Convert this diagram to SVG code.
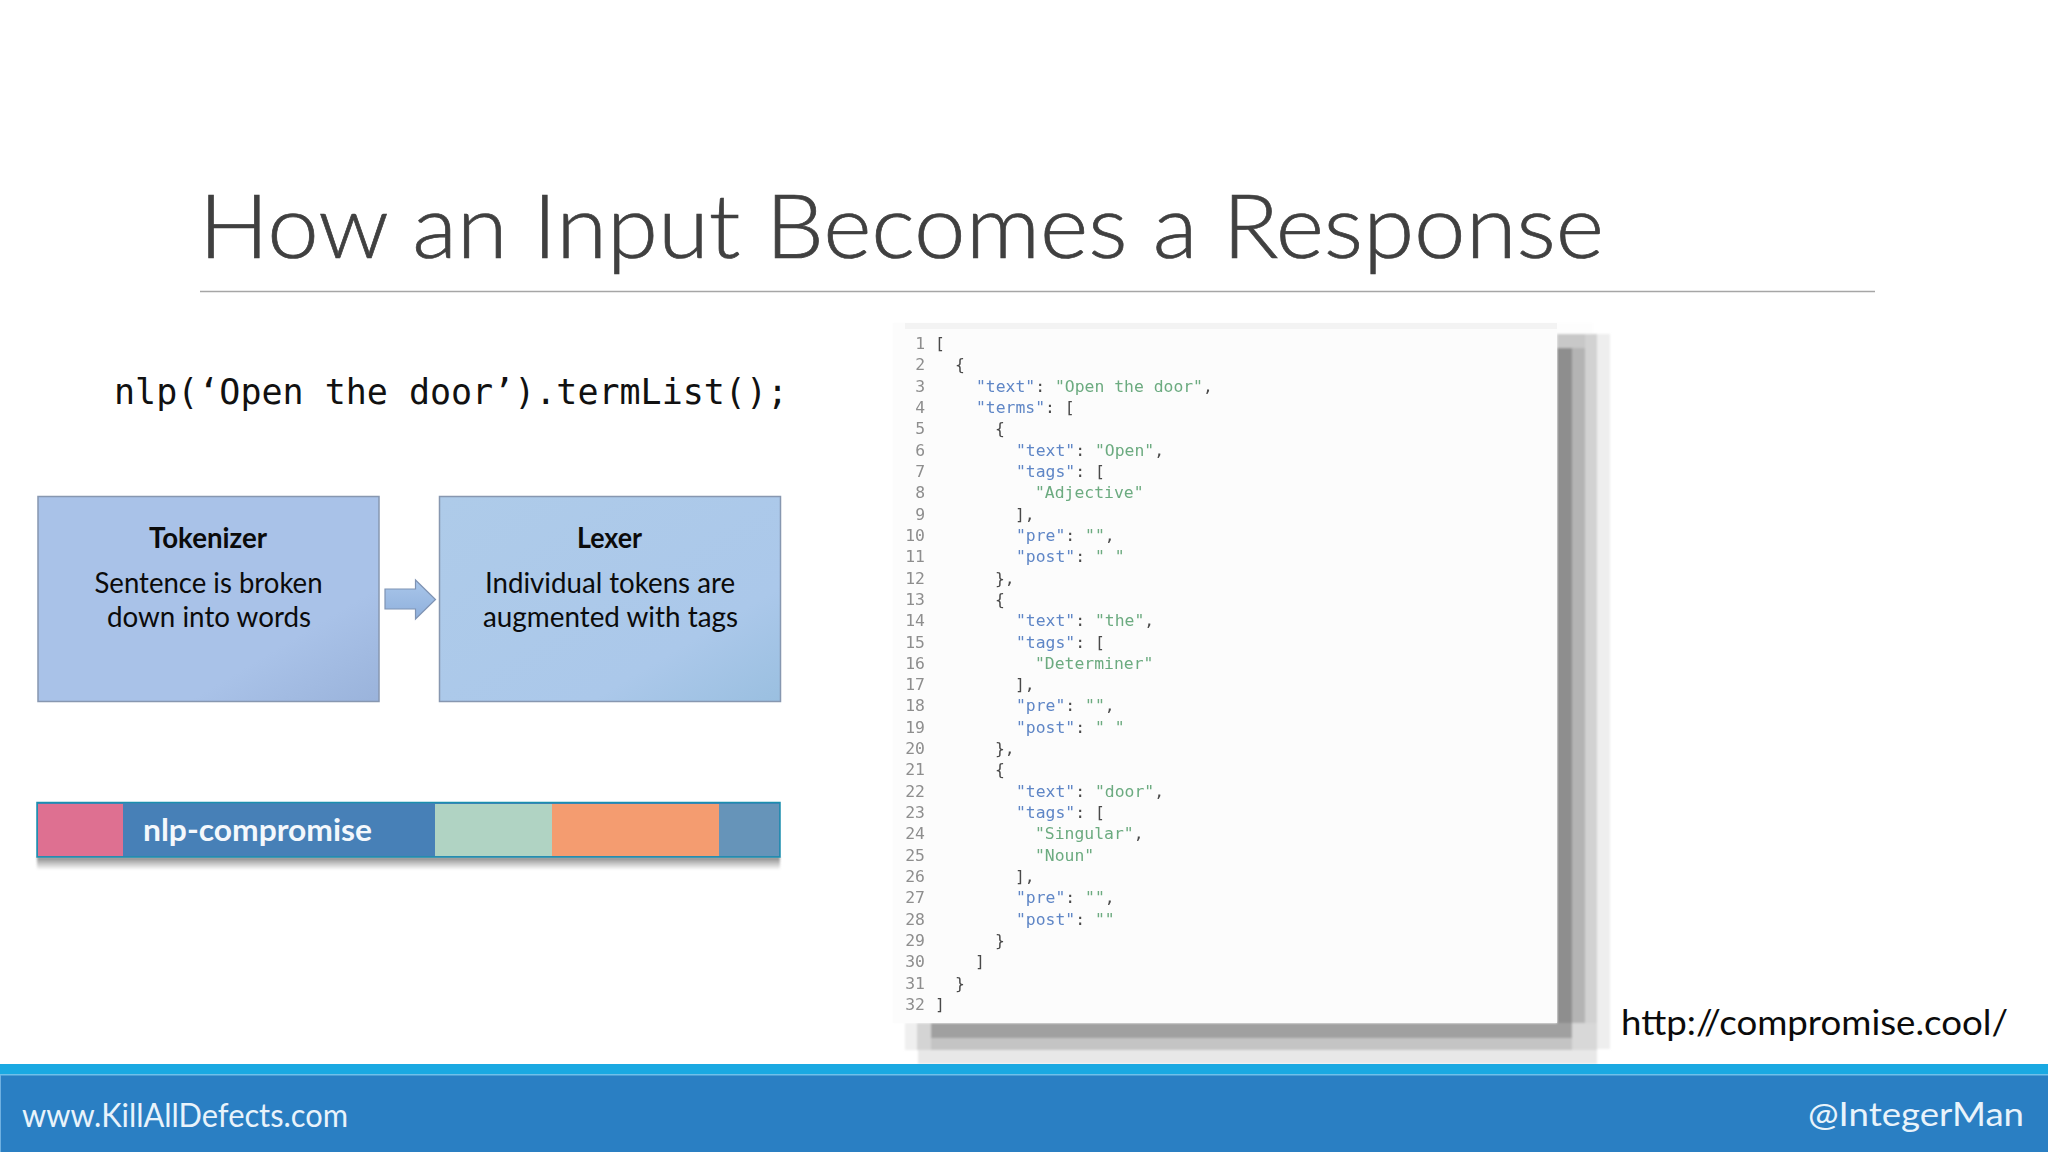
<svg xmlns="http://www.w3.org/2000/svg" width="2048" height="1152" viewBox="0 0 2048 1152">
<style>
.l{font-family:"Lato","Open Sans",sans-serif}
.b{fill:#0b0b0b;font-size:29px}
.h{font-weight:700}
.f{fill:#e8f3fb;font-size:33px}
.c{font-family:"DejaVu Sans Mono","Liberation Mono",monospace;font-size:16.4px;fill:#4a4a4a;white-space:pre}
.n{fill:#8e8e8e;text-anchor:end}
.k{fill:#5f86c6}
.v{fill:#6cab80}
.box{stroke:#8797b0;stroke-width:1.5}
</style>
<defs>
<linearGradient id="g1" x1="0" y1="0" x2="1" y2="1"><stop offset="0" stop-color="#a9c2e8"/><stop offset=".72" stop-color="#a9c2e8"/><stop offset="1" stop-color="#9ab3db"/></linearGradient>
<linearGradient id="g2" x1="0" y1="0" x2="1" y2="1"><stop offset="0" stop-color="#aecbe9"/><stop offset=".72" stop-color="#abc8ea"/><stop offset="1" stop-color="#9abfe0"/></linearGradient>
<linearGradient id="g3" x1="0" y1="0" x2="0" y2="1"><stop offset="0" stop-color="#a9c6ea"/><stop offset="1" stop-color="#8fb0dc"/></linearGradient>
<linearGradient id="g4" x1="0" y1="0" x2="0" y2="1"><stop offset="0" stop-color="#6f6f6f" stop-opacity=".85"/><stop offset="1" stop-color="#7f7f7f" stop-opacity="0"/></linearGradient>
<filter id="blur" x="-5%" y="-5%" width="110%" height="110%"><feGaussianBlur stdDeviation="0.7"/></filter>
<filter id="soft" x="-5%" y="-5%" width="110%" height="110%"><feGaussianBlur stdDeviation="1.2"/></filter>
</defs>
<rect width="2048" height="1152" fill="#fff"/>
<text id="title" class="l" x="199" y="258" font-size="88" font-weight="300" fill="#404040" stroke="#404040" stroke-width=".7" textLength="1405" lengthAdjust="spacingAndGlyphs">How an Input Becomes a Response</text>
<line x1="200" y1="291.500" x2="1875" y2="291.500" stroke="#a6a6a6" stroke-width="1.500"/>
<text id="code-call" x="114" y="404" font-family="'DejaVu Sans Mono','Liberation Mono',monospace" font-size="35" fill="#111" textLength="674" lengthAdjust="spacingAndGlyphs">nlp(‘Open the door’).termList();</text>

<g id="tokenizer">
<rect class="box" x="38" y="496.500" width="341" height="205" fill="url(#g1)"/>
<text class="l b h" x="149" y="548" textLength="118" lengthAdjust="spacingAndGlyphs">Tokenizer</text>
<text class="l b" x="94.500" y="593" textLength="228" lengthAdjust="spacingAndGlyphs">Sentence is broken</text>
<text class="l b" x="107" y="627" textLength="204" lengthAdjust="spacingAndGlyphs">down into words</text>
</g>
<g id="lexer">
<rect class="box" x="439.500" y="496.500" width="341" height="205" fill="url(#g2)"/>
<text class="l b h" x="577" y="548" textLength="65" lengthAdjust="spacingAndGlyphs">Lexer</text>
<text class="l b" x="485" y="593" textLength="250" lengthAdjust="spacingAndGlyphs">Individual tokens are</text>
<text class="l b" x="483" y="627" textLength="255" lengthAdjust="spacingAndGlyphs">augmented with tags</text>
</g>
<g id="connectors">
<path d="M385 589H415.500V580L435.500 599.500L415.500 619V609H385Z" fill="url(#g3)" stroke="#7f93b3" stroke-width="1.200"/>
</g>
<g id="nlp-compromise">
<rect x="37" y="857" width="743" height="13" fill="url(#g4)" filter="url(#soft)"/>
<rect x="37" y="802.500" width="743" height="54.500" fill="#4780b7" stroke="#1b8fae" stroke-width="1.500"/>
<rect x="38" y="804" width="85" height="52" fill="#de7091"/>
<rect x="435" y="804" width="117" height="52" fill="#b0d3c3"/>
<rect x="552" y="804" width="167" height="52" fill="#f49c70"/>
<rect x="719" y="804" width="60" height="52" fill="#6694b9"/>
<text class="l h" x="143" y="840.500" font-size="31" fill="#f4f8fc" textLength="229" lengthAdjust="spacingAndGlyphs">nlp-compromise</text>
</g>

<g id="json-panel">
<g filter="url(#soft)">
<rect x="893" y="323" width="700" height="700" fill="#fdfdfd"/>
<rect x="1597" y="334" width="13" height="715" fill="#eeeeee"/>
<rect x="918" y="1050" width="679" height="14" fill="#e8e8e8"/>
<rect x="1585" y="334" width="12" height="716" fill="#d2d2d2"/>
<rect x="918" y="1038" width="667" height="12" fill="#c4c4c4"/>
<rect x="1572" y="336" width="13" height="702" fill="#b4b4b4"/>
<rect x="931" y="1023" width="641" height="15" fill="#a0a0a0"/>
<rect x="1557" y="336" width="15" height="687" fill="#8e8e8e"/>
<rect x="1557" y="334" width="28" height="14" fill="#c8c8c8"/>
<rect x="917" y="1023" width="14" height="27" fill="#d4d4d4"/>
<rect x="905" y="1023" width="12" height="27" fill="#efefef"/>
<rect x="1572" y="1023" width="25" height="27" fill="#d8d8d8"/>
</g>
<rect x="893" y="323" width="664" height="700" fill="#fcfcfc"/>
<rect x="905" y="323" width="652" height="6" fill="#f3f3f3"/>
<g filter="url(#blur)">
<g class="c n">
<text x="925" y="349">1</text><text x="925" y="370">2</text><text x="925" y="392">3</text><text x="925" y="413">4</text>
<text x="925" y="434">5</text><text x="925" y="456">6</text><text x="925" y="477">7</text><text x="925" y="498">8</text>
<text x="925" y="520">9</text><text x="925" y="541">10</text><text x="925" y="562">11</text><text x="925" y="584">12</text>
<text x="925" y="605">13</text><text x="925" y="626">14</text><text x="925" y="648">15</text><text x="925" y="669">16</text>
<text x="925" y="690">17</text><text x="925" y="711">18</text><text x="925" y="733">19</text><text x="925" y="754">20</text>
<text x="925" y="775">21</text><text x="925" y="797">22</text><text x="925" y="818">23</text><text x="925" y="839">24</text>
<text x="925" y="861">25</text><text x="925" y="882">26</text><text x="925" y="903">27</text><text x="925" y="925">28</text>
<text x="925" y="946">29</text><text x="925" y="967">30</text><text x="925" y="989">31</text><text x="925" y="1010">32</text>
</g>
<text class="c" x="935" y="349">[</text>
<text class="c" x="955" y="370">{</text>
<text class="c" x="976" y="392"><tspan class="k">"text"</tspan>: <tspan class="v">"Open the door"</tspan>,</text>
<text class="c" x="976" y="413"><tspan class="k">"terms"</tspan>: [</text>
<text class="c" x="995" y="434">{</text>
<text class="c" x="1016" y="456"><tspan class="k">"text"</tspan>: <tspan class="v">"Open"</tspan>,</text>
<text class="c" x="1016" y="477"><tspan class="k">"tags"</tspan>: [</text>
<text class="c v" x="1035" y="498">"Adjective"</text>
<text class="c" x="1015" y="520">],</text>
<text class="c" x="1016" y="541"><tspan class="k">"pre"</tspan>: <tspan class="v">""</tspan>,</text>
<text class="c" x="1016" y="562"><tspan class="k">"post"</tspan>: <tspan class="v">" "</tspan></text>
<text class="c" x="995" y="584">},</text>
<text class="c" x="995" y="605">{</text>
<text class="c" x="1016" y="626"><tspan class="k">"text"</tspan>: <tspan class="v">"the"</tspan>,</text>
<text class="c" x="1016" y="648"><tspan class="k">"tags"</tspan>: [</text>
<text class="c v" x="1035" y="669">"Determiner"</text>
<text class="c" x="1015" y="690">],</text>
<text class="c" x="1016" y="711"><tspan class="k">"pre"</tspan>: <tspan class="v">""</tspan>,</text>
<text class="c" x="1016" y="733"><tspan class="k">"post"</tspan>: <tspan class="v">" "</tspan></text>
<text class="c" x="995" y="754">},</text>
<text class="c" x="995" y="775">{</text>
<text class="c" x="1016" y="797"><tspan class="k">"text"</tspan>: <tspan class="v">"door"</tspan>,</text>
<text class="c" x="1016" y="818"><tspan class="k">"tags"</tspan>: [</text>
<text class="c" x="1035" y="839"><tspan class="v">"Singular"</tspan>,</text>
<text class="c v" x="1035" y="861">"Noun"</text>
<text class="c" x="1015" y="882">],</text>
<text class="c" x="1016" y="903"><tspan class="k">"pre"</tspan>: <tspan class="v">""</tspan>,</text>
<text class="c" x="1016" y="925"><tspan class="k">"post"</tspan>: <tspan class="v">""</tspan></text>
<text class="c" x="995" y="946">}</text>
<text class="c" x="975" y="967">]</text>
<text class="c" x="955" y="989">}</text>
<text class="c" x="935" y="1010">]</text>
</g>
</g>

<text id="url" class="l" x="1621" y="1035" font-size="35" fill="#0b0b0b" textLength="387" lengthAdjust="spacingAndGlyphs">http://compromise.cool/</text>

<g id="footer">
<rect x="0" y="1064" width="2048" height="88" fill="#1aa9e2"/>
<rect x="0" y="1075" width="2048" height="77" fill="#2a7fc3"/>
<rect x="0" y="1074" width="2048" height="1.500" fill="#6fc0ea"/>
<rect x="0" y="1075" width="1" height="77" fill="#6fb0e0"/>
<text class="l f" x="22" y="1127" textLength="326" lengthAdjust="spacingAndGlyphs">www.KillAllDefects.com</text>
<text class="l f" x="1808" y="1126" textLength="216" lengthAdjust="spacingAndGlyphs">@IntegerMan</text>
</g>
</svg>
